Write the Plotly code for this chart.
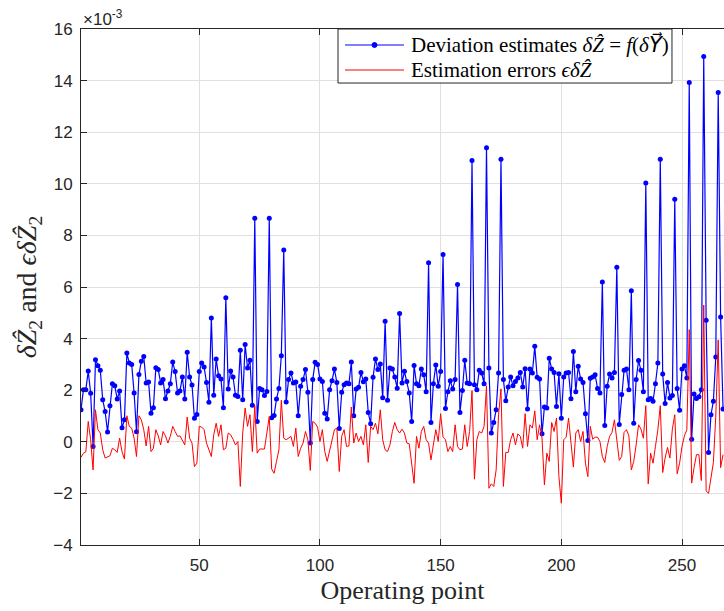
import plotly.graph_objects as go

# Operating points 1..267 (visible range)
operating_point = list(range(1, 268))

# Deviation estimates (units of 1e-3)
deviation_estimates = [
    1.24, 2.02, 2.02, 2.74, 1.88, -0.18, 3.18, 2.95, 2.77, 1.63,
    1.17, 0.38, 1.40, 2.25, 2.17, 1.66, 1.97, 0.54, 0.85, 3.44,
    3.05, 3.00, 1.89, 0.39, 2.61, 3.12, 3.31, 2.28, 2.32, 1.11,
    1.32, 2.87, 2.80, 2.28, 2.41, 1.67, 1.97, 2.25, 3.09, 2.72,
    1.89, 1.97, 2.51, 1.66, 3.47, 2.51, 2.20, 0.91, 1.06, 2.72,
    3.05, 2.90, 2.30, 1.53, 4.80, 1.80, 3.21, 2.56, 2.43, 1.32,
    5.58, 2.05, 2.74, 2.51, 1.80, 1.76, 3.55, 1.63, 3.77, 2.86,
    3.16, 1.42, 8.66, 0.79, 2.07, 2.02, 1.79, 1.95, 8.66, 0.93,
    1.02, 1.66, 2.07, 3.34, 7.43, 1.54, 2.41, 2.67, 2.28, 2.32,
    1.01, 2.15, 2.41, 2.80, 1.92, -0.05, 2.41, 3.08, 3.00, 2.43,
    2.34, 1.11, 0.88, 2.02, 2.37, 2.82, 2.30, 0.52, 1.92, 2.21,
    2.28, 2.25, 3.09, 1.01, 2.05, 2.11, 2.69, 2.33, 2.43, 1.14,
    0.70, 2.50, 3.21, 2.80, 3.02, 1.71, 4.67, 1.61, 2.86, 2.82,
    2.51, 2.08, 4.97, 2.28, 2.73, 2.34, 1.89, 0.79, 2.96, 2.25,
    2.17, 2.82, 2.60, 1.94, 6.94, 0.75, 2.25, 2.98, 2.15, 2.72,
    7.26, 1.29, 1.94, 2.37, 2.05, 2.41, 6.10, 1.14, 1.99, 3.16,
    2.28, 2.25, 10.90, 2.21, 2.02, 2.77, 2.67, 2.25, 11.40, 2.86,
    0.34, 0.75, 1.24, 2.67, 10.95, 2.41, 1.59, 2.12, 2.51, 2.17,
    2.34, 2.47, 2.69, 2.12, 2.83, 1.27, 2.82, 2.67, 3.70, 2.50,
    2.43, 0.31, 1.35, 1.31, 3.24, 2.82, 2.69, 1.37, 2.64, 0.91,
    2.51, 2.67, 2.69, 1.67, 3.50, 1.94, 2.93, 2.43, 2.30, 1.09,
    0.05, 2.46, 2.51, 2.60, 2.07, 1.89, 6.19, 0.63, 2.15, 2.63,
    2.47, 2.69, 6.77, 0.67, 1.83, 2.77, 2.82, 2.02, 5.85, 0.72,
    2.41, 3.15, 2.77, 1.94, 10.03, 1.63, 1.68, 1.57, 2.25, 3.05,
    10.95, 2.63, 1.48, 2.30, 1.70, 1.79, 9.40, 2.07, 1.22, 2.82,
    2.95, 2.47, 13.93, 0.10, 1.85, 1.68, 1.75, 2.02, 14.93, 4.71,
    -0.41, 1.05, 1.57, 3.29, 13.54, 4.84, 1.27,
]

# Estimation errors (units of 1e-3)
estimation_errors = [
    -0.60, -0.44, -0.39, 0.79, 0.08, -1.09, 1.24, 0.47, 0.34, -0.31,
    -0.63, -0.60, -0.54, -0.25, -0.31, -0.41, 0.14, -0.38, -0.67, 1.01,
    0.60, 0.53, 0.14, -0.57, 1.01, 0.85, 0.47, -0.16, 0.60, -0.38,
    -0.25, 0.47, 0.23, -0.12, 0.40, 0.23, -0.05, 0.21, 0.60, 0.40,
    0.21, 0.23, 0.08, -0.12, 0.96, 0.14, -0.05, -0.96, -0.83, 0.60,
    0.57, 0.47, -0.05, -0.34, -0.57, 0.27, 0.72, 0.21, 0.66, -0.31,
    -0.25, 0.34, 0.27, 0.10, -0.12, 0.01, -1.73, 0.34, 1.31, 0.60,
    1.05, -0.38, 1.40, -0.44, -0.28, -0.28, -0.28, 0.34, 0.98, -1.06,
    -1.22, -0.76, -0.31, 1.61, 0.14, 0.08, 0.14, 0.21, -0.18, 0.53,
    -0.57, -0.25, -0.05, 0.40, 0.08, -1.11, 0.79, 0.72, 0.57, 0.01,
    0.47, -0.38, -0.76, -0.31, 0.01, 0.47, 0.53, -1.15, 0.21, 0.47,
    -0.18, -0.16, 1.35, -0.05, 0.34, 0.01, 0.21, -0.12, 0.66, -0.80,
    0.60, 0.47, 0.72, 0.31, 1.24, 0.08, -0.31, -0.38, -0.12, 0.40,
    0.75, 0.47, 0.34, 0.49, 0.34, -0.05, -0.08, -0.83, -1.61, 0.21,
    -0.25, 0.40, 0.60, 0.08, -0.05, -0.70, -0.12, 0.47, 0.01, 1.09,
    0.18, 0.08, -0.38, -0.18, -0.38, 0.66, -0.18, -0.31, -0.28, 0.66,
    -0.18, 0.40, 1.98, -1.45, 0.08, 0.40, 0.34, 0.60, 2.17, -1.80,
    -1.63, -1.73, -1.09, 1.05, 2.05, -1.73, -0.41, -0.41, 0.08, 0.34,
    -0.12, 0.31, 0.21, -0.25, 1.09, -0.18, 0.66, 0.53, 1.20, 0.08,
    0.66, 0.14, -1.67, -0.44, -0.76, 0.75, 0.40, 0.92, -1.35, -2.38,
    0.08, 0.18, 0.92, 0.08, -0.98, 0.34, 0.47, 0.01, 0.40, -0.83,
    -1.35, 0.60, 0.10, 0.18, 0.18, 0.01, -0.57, -0.80, -0.18, 0.21,
    0.36, 0.85, 0.08, -0.72, -0.57, 0.36, 0.47, 0.23, -1.09, -0.76,
    -0.12, 0.66, 0.49, 0.14, 1.40, -1.63, -0.44, -0.83, -0.18, 0.47,
    1.40, -1.19, -0.63, -0.22, -0.63, 0.49, 1.05, -1.24, -0.83, -0.18,
    0.23, 0.47, 4.35, -1.60, -1.00, -0.50, -0.50, -1.50, 5.30, -1.90,
    -2.00, -1.35, -0.80, 1.00, 3.95, -1.00, -0.50,
]

series_names = [
    ("Deviation estimates <i>δẐ</i> = <i>f</i>(<i>δ</i>"
     "<span style='font-family:DejaVu Sans'><i>Y⃗</i></span>)"),
    "Estimation errors <i>ϵδẐ</i>",
]
series_colors = ["#0000ff", "#ff0000"]

x_ticks = [50, 100, 150, 200, 250]
y_ticks = [-4, -2, 0, 2, 4, 6, 8, 10, 12, 14, 16]

SERIF = "Liberation Serif, DejaVu Serif, serif"
SANS = "Liberation Sans, Arial, sans-serif"

fig = go.Figure()
fig.add_trace(go.Scatter(
    x=operating_point, y=deviation_estimates, mode="lines+markers",
    name=series_names[0], showlegend=False,
    line=dict(color=series_colors[0], width=1.2),
    marker=dict(color=series_colors[0], size=5),
))
fig.add_trace(go.Scatter(
    x=operating_point, y=estimation_errors, mode="lines",
    name=series_names[1], showlegend=False,
    line=dict(color=series_colors[1], width=1),
))

fig.update_layout(
    width=724, height=611, autosize=False,
    paper_bgcolor="white", plot_bgcolor="white",
    margin=dict(l=81, r=0, t=29, b=66),
    showlegend=False,
    font=dict(family=SANS, color="#262626"),
)

fig.update_xaxes(
    range=[1, 267.4], tickvals=x_ticks, ticks="inside", ticklen=6,
    tickcolor="#262626", showline=True, linecolor="#262626", linewidth=1,
    mirror="ticks", showgrid=True, gridcolor="#e0e0e0", gridwidth=1,
    zeroline=False, tickfont=dict(family=SANS, size=17, color="#262626"),
    ticklabelstandoff=5,
    title=dict(text="Operating point", font=dict(family=SERIF, size=26, color="#262626"),
               standoff=6),
)
fig.update_yaxes(
    range=[-4, 16], tickvals=y_ticks, ticks="inside", ticklen=6,
    tickcolor="#262626", showline=True, linecolor="#262626", linewidth=1,
    showgrid=True, gridcolor="#e0e0e0", gridwidth=1,
    zeroline=False, tickfont=dict(family=SANS, size=17, color="#262626"),
    ticklabelstandoff=4,
    title=dict(text="<i>δẐ</i><sub>2</sub> and <i>ϵδẐ</i><sub>2</sub>",
               font=dict(family=SERIF, size=28, color="#262626"), standoff=8),
)

fig.add_annotation(
    x=0, y=1, xref="paper", yref="paper", xanchor="left", yanchor="bottom",
    text="×10<sup>-3</sup>", showarrow=False, yshift=-2,
    font=dict(family=SANS, size=17, color="#262626"),
)

# Legend box (drawn in paper coordinates, MATLAB style)
fig.add_shape(type="rect", xref="paper", yref="paper",
              x0=0.3997, x1=0.9191, y0=0.8953, y1=1.0,
              line=dict(color="#262626", width=1), fillcolor="white", layer="above")
row_y = [0.969, 0.9205]
for k in range(2):
    fig.add_shape(type="line", xref="paper", yref="paper",
                  x0=0.4106, x1=0.5023, y0=row_y[k], y1=row_y[k],
                  line=dict(color=series_colors[k], width=1.2), layer="above")
    fig.add_annotation(x=0.5101, y=row_y[k], xref="paper", yref="paper",
                       xanchor="left", yanchor="middle", showarrow=False,
                       text=series_names[k],
                       font=dict(family=SERIF, size=21, color="#000000"))
fig.add_shape(type="circle", xref="paper", yref="paper",
              x0=0.4565 - 0.0039, x1=0.4565 + 0.0039,
              y0=row_y[0] - 0.0048, y1=row_y[0] + 0.0048,
              line=dict(color=series_colors[0], width=1),
              fillcolor=series_colors[0], layer="above")

fig.write_html(
    "out.html",
    config={"displayModeBar": False},
    post_script=("document.body.style.margin='0';"
                 "document.documentElement.style.overflow='hidden';"
                 "document.body.style.overflow='hidden';"),
)
